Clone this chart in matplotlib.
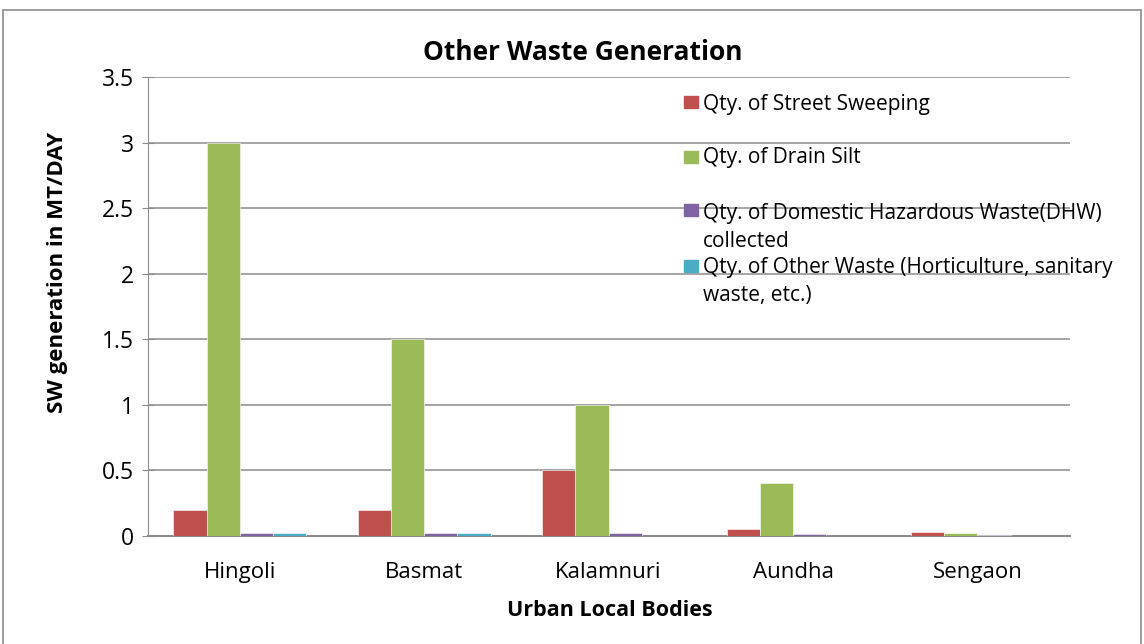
import numpy as np
import matplotlib.pyplot as plt
from matplotlib.patches import Rectangle

# data
bodies = ['Hingoli', 'Basmat', 'Kalamnuri', 'Aundha', 'Sengaon']
street_sweeping = [0.2, 0.2, 0.5, 0.05, 0.03]
drain_silt = [3.0, 1.5, 1.0, 0.4, 0.02]
dhw = [0.02, 0.02, 0.02, 0.01, 0.005]
other_waste = [0.02, 0.02, 0.0, 0.0, 0.0]

series_names = ['Qty. of Street Sweeping',
                'Qty. of Drain Silt',
                'Qty. of Domestic Hazardous Waste(DHW)\ncollected',
                'Qty. of Other Waste (Horticulture, sanitary\nwaste, etc.)']
colors = ['#C0504D', '#9BBB59', '#8064A2', '#4BACC6']

plt.rcParams['font.family'] = ['Open Sans', 'DejaVu Sans']

fig = plt.figure(figsize=(11.44, 6.44), dpi=100)
ax = fig.add_axes([0.129, 0.168, 0.806, 0.712])

# outer chart border
fig.patches.append(Rectangle((0.003, -0.01), 0.994, 0.995, transform=fig.transFigure,
                             fill=False, edgecolor='#8c8c8c', linewidth=1.2))

x = np.arange(len(bodies))
w = 0.18
all_series = [street_sweeping, drain_silt, dhw, other_waste]
for i, vals in enumerate(all_series):
    ax.bar(x + (i - 1.5) * w, vals, width=w, color=colors[i],
           edgecolor='white', linewidth=0.4, zorder=3)

ax.set_xlim(-0.5, len(bodies) - 0.5)
ax.set_ylim(0, 3.5)
ax.set_yticks(np.arange(0, 3.51, 0.5))
ax.set_yticklabels(['0', '0.5', '1', '1.5', '2', '2.5', '3', '3.5'])
ax.set_xticks(x)
ax.set_xticklabels(bodies)
ax.tick_params(axis='y', labelsize=16.5, length=8, direction='inout', color='#8c8c8c', pad=6)
ax.tick_params(axis='x', labelsize=16, length=0, pad=19)
ax.grid(axis='y', color='#8c8c8c', linewidth=1.1, zorder=0)
for s in ['top', 'right']:
    ax.spines[s].set_visible(False)
ax.spines['left'].set_color('#8c8c8c')
ax.spines['bottom'].set_color('#8c8c8c')
ax.spines['bottom'].set_linewidth(1.5)

fig.text(583 / 1144, 1 - 53 / 644, 'Other Waste Generation', fontsize=19, fontweight='bold',
         ha='center', va='center')
fig.text(610 / 1144, 1 - 610 / 644, 'Urban Local Bodies', fontsize=15.5, fontweight='bold',
         ha='center', va='center')
fig.text(58 / 1144, 1 - 272 / 644, 'SW generation in MT/DAY', fontsize=16, fontweight='bold',
         ha='center', va='center', rotation=90)

# legend drawn inside the plot, no frame
mark_y = [0.946, 0.826, 0.710, 0.588]
text_base = [0.928, 0.8126, 0.6296, 0.512]  # baseline of the last line of each label
for i, name in enumerate(series_names):
    ax.add_patch(Rectangle((0.5813, mark_y[i] - 0.013), 0.0152, 0.026,
                           transform=ax.transAxes, color=colors[i], zorder=4, clip_on=False))
    ax.text(0.602, text_base[i], name, transform=ax.transAxes, fontsize=15,
            va='baseline', ha='left', linespacing=1.45, zorder=4)

fig.savefig('out.png', dpi=100)
